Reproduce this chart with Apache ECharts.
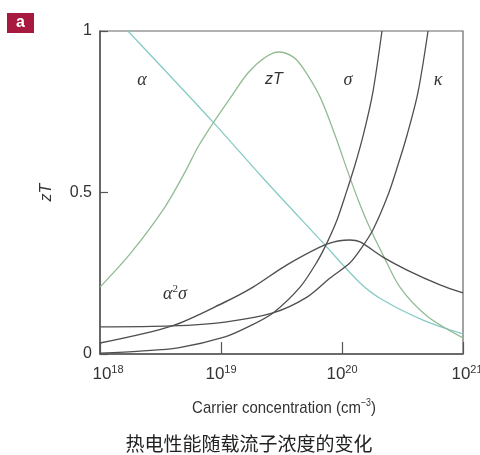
<!DOCTYPE html>
<html><head><meta charset="utf-8">
<script src="https://cdn.jsdelivr.net/npm/echarts@6/dist/echarts.min.js"></script>
<style>html,body{margin:0;padding:0;background:#fff}#c{width:480px;height:455px}</style>
</head><body><div id="c"></div>
<script>
// Carrier concentration (cm^-3) and normalized values
const alphaN = [1.7e18, 8.6e18, 2.22e19, 6.97e19, 1.41e20, 2.18e20, 4.67e20, 1e21];
const alphaV = [1.0, 0.718, 0.545, 0.344, 0.220, 0.167, 0.105, 0.062];

const zTN = [1e18, 1.8e18, 3.44e18, 5.04e18, 6.45e18, 8.6e18, 1.21e19, 1.67e19, 2.31e19, 3.0e19, 3.94e19, 4.77e19, 6.58e19, 8.75e19, 1.12e20, 1.36e20, 1.70e20, 2.18e20, 3.01e20, 5.03e20, 1e21];
const zTV = [0.207, 0.313, 0.455, 0.563, 0.641, 0.715, 0.796, 0.870, 0.918, 0.935, 0.920, 0.885, 0.796, 0.678, 0.563, 0.477, 0.390, 0.307, 0.207, 0.118, 0.050];

const sigmaN = [1e18, 2.14e18, 4.42e18, 1.08e19, 1.74e19, 2.69e19, 4.50e19, 6.21e19, 7.51e19, 9.09e19, 1.08e20, 1.28e20, 1.52e20, 1.80e20, 2.14e20];
const sigmaV = [0.003, 0.009, 0.019, 0.053, 0.087, 0.127, 0.207, 0.285, 0.344, 0.415, 0.498, 0.585, 0.687, 0.811, 1.0];

const kappaN = [1e18, 3.94e18, 1.08e19, 2.69e19, 5.14e19, 7.96e19, 1.16e20, 1.41e20, 1.80e20, 2.40e20, 2.90e20, 3.45e20, 4.25e20, 5.14e20];
const kappaV = [0.084, 0.087, 0.099, 0.127, 0.176, 0.235, 0.282, 0.322, 0.384, 0.492, 0.585, 0.678, 0.811, 1.0];

const pfN = [1e18, 3.94e18, 1.08e19, 1.84e19, 3.51e19, 7.51e19, 1.16e20, 1.41e20, 2.18e20, 3.45e20, 6.46e20, 1e21];
const pfV = [0.034, 0.087, 0.161, 0.207, 0.276, 0.340, 0.353, 0.347, 0.300, 0.260, 0.214, 0.189];

const yTicks = [0, 0.5, 1];
const yTickLabels = ['0', '0.5', '1'];
const caption = '热电性能随载流子浓度的变化';
const xTitle = 'Carrier concentration (cm';

const zip = (a, b) => a.map((x, i) => [x, b[i]]);
const chart = echarts.init(document.getElementById('c'), null, {renderer: 'canvas'});
const dark = '#555555';
const lab = "'Liberation Sans',Arial,sans-serif";

function line(name, n, v, color, w) {
  return {name, type: 'line', data: zip(n, v), showSymbol: false, smooth: 0.3,
    lineStyle: {color, width: w}, silent: true, clip: true};
}

chart.setOption({
  animation: false,
  grid: {left: 100, right: 17, top: 31, bottom: 101, show: true, borderColor: '#666', borderWidth: 1.2,
    backgroundColor: 'transparent', containLabel: false, outerBoundsMode: 'none'},
  xAxis: {
    type: 'log', logBase: 10, min: 1e18, max: 1e21,
    axisLine: {lineStyle: {color: dark, width: 1.5}},
    axisTick: {inside: true, length: 12, lineStyle: {color: dark, width: 1.2}},
    splitLine: {show: false}, minorTick: {show: false},
    axisLabel: {
      margin: 10, color: '#333', hideOverlap: false,
      formatter: function (v) {
        const e = Math.round(Math.log10(v));
        const first = e === 18 ? 'p' : (e === 21 ? 'q' : 'b');
        return '{' + first + '|10}{s|' + e + '}';
      },
      rich: {
        b: {fontSize: 17, fontFamily: lab, color: '#333'},
        p: {fontSize: 17, fontFamily: lab, color: '#333', padding: [0, 0, 0, 16]},
        q: {fontSize: 17, fontFamily: lab, color: '#333', padding: [0, 0, 0, 8]},
        s: {fontSize: 11, fontFamily: lab, color: '#333', padding: [0, 0, 9, 0]}
      }
    }
  },
  yAxis: {
    type: 'value', min: 0, max: 1, interval: 0.5,
    name: 'zT', nameLocation: 'middle', nameRotate: 90, nameGap: 45, nameMoveOverlap: false,
    nameTextStyle: {fontStyle: 'italic', fontSize: 16, fontFamily: lab, color: '#333'},
    axisLine: {show: true, lineStyle: {color: dark, width: 1.5}},
    axisTick: {show: true, inside: true, length: 8, lineStyle: {color: dark, width: 1.2}},
    splitLine: {show: false},
    axisLabel: {margin: 8, fontSize: 16, fontFamily: lab, color: '#333',
      formatter: v => yTickLabels[yTicks.indexOf(v)] ?? String(v)}
  },
  series: [
    line('α', alphaN, alphaV, '#86cbc6', 1.3),
    line('zT', zTN, zTV, '#93bb93', 1.3),
    line('σ', sigmaN, sigmaV, '#4f4f4f', 1.3),
    line('κ', kappaN, kappaV, '#4f4f4f', 1.3),
    line('α²σ', pfN, pfV, '#4f4f4f', 1.4)
  ],
  graphic: [
    {type: 'rect', left: 7, top: 13, shape: {width: 27, height: 20}, style: {fill: '#a8193f'}},
    {type: 'text', x: 20.5, y: 23, style: {text: 'a', fill: '#fff', font: 'bold 16px Liberation Sans, Arial', textAlign: 'center', textVerticalAlign: 'middle'}},
    {type: 'text', x: 142, y: 80, style: {text: 'α', font: 'italic 18px Liberation Serif, serif', fill: '#333', textAlign: 'center', textVerticalAlign: 'middle'}},
    {type: 'text', x: 274, y: 80, style: {text: 'zT', font: "italic 16px 'Liberation Sans', sans-serif", fill: '#333', textAlign: 'center', textVerticalAlign: 'middle'}},
    {type: 'text', x: 348, y: 80, style: {text: 'σ', font: 'italic 18px Liberation Serif, serif', fill: '#333', textAlign: 'center', textVerticalAlign: 'middle'}},
    {type: 'text', x: 438, y: 80, style: {text: 'κ', font: 'italic 18px Liberation Serif, serif', fill: '#333', textAlign: 'center', textVerticalAlign: 'middle'}},
    {type: 'text', x: 175, y: 294, style: {
      text: '{g|α}{sup|2}{g|σ}', textAlign: 'center', textVerticalAlign: 'middle',
      rich: {
        g: {font: 'italic 18px Liberation Serif, serif', fill: '#333'},
        sup: {font: '11px Liberation Serif, serif', fill: '#333', padding: [0, 0, 9, 0]}
      }}},
    {type: 'text', x: 284, y: 408, scaleX: 0.88, originX: 0, originY: 0, style: {
      text: '{t|' + xTitle + '}{s|−3}{t|)}', textAlign: 'center', textVerticalAlign: 'middle',
      rich: {
        t: {font: "17px 'Liberation Sans', Arial", fill: '#333'},
        s: {font: "10px 'Liberation Sans', Arial", fill: '#333', padding: [0, 0, 9, 0]}
      }}},
    {type: 'text', x: 249, y: 444, style: {text: caption, font: "19px 'Noto Sans CJK SC', sans-serif", fill: '#222', textAlign: 'center', textVerticalAlign: 'middle'}}
  ]
});
</script></body></html>
